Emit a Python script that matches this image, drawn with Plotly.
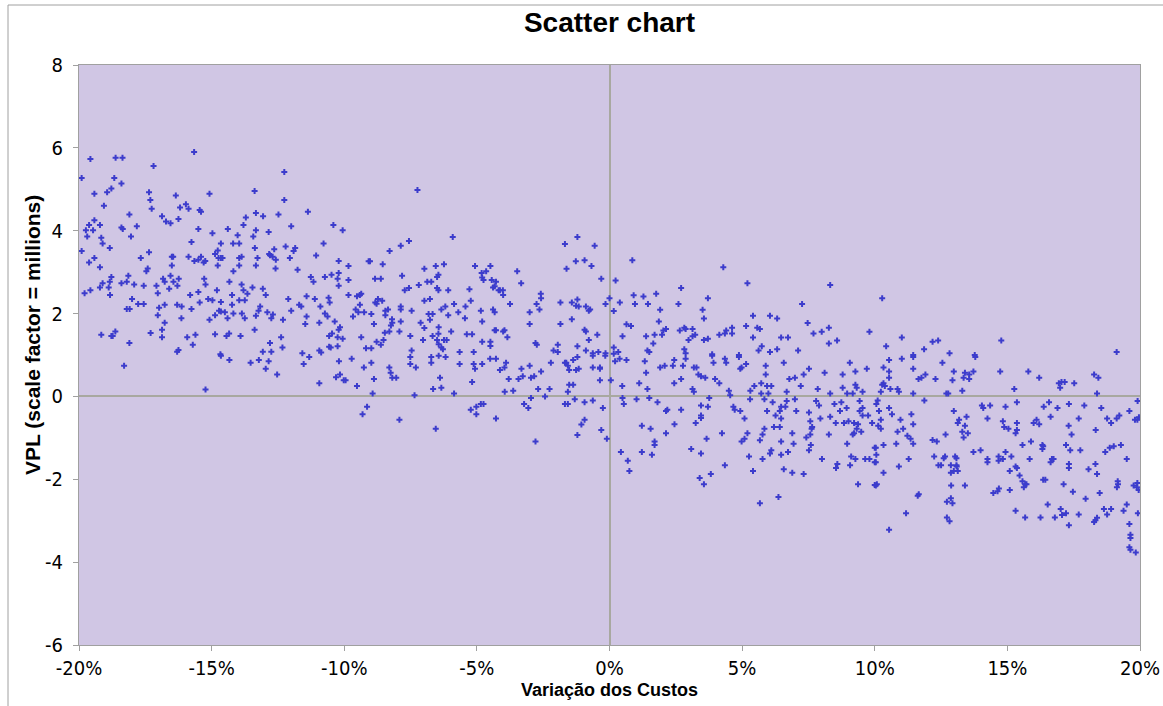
import plotly.graph_objects as go

# Data: (Variação dos Custos in %, VPL in millions)
pts_a = [(-15.66,5.90),(-19.57,5.73),(-18.62,5.76),(-18.36,5.76),(-17.19,5.56),(-12.26,5.42),(-19.90,5.27),(-18.67,5.27),
(-18.78,5.02),(-18.40,5.14),(-19.42,4.89),(-18.94,4.93),(-17.36,4.93),(-16.35,4.85),(-15.08,4.89),(-13.38,4.96),(-17.31,4.74),
(-12.26,4.74),(-19.06,4.60),(-17.26,4.53),(-16.19,4.56),(-15.97,4.64),(-15.87,4.53),(-15.45,4.50),(-15.40,4.46),(-11.37,4.46),
(-18.10,4.39),(-16.87,4.35),(-13.33,4.43),(-13.71,4.32),(-13.06,4.35),(-12.48,4.39),(-16.72,4.22),(-16.55,4.18),(-16.25,4.28),
(-19.42,4.25),(-19.62,4.14),(-19.21,4.14),(-19.74,4.01),(-19.47,4.01),(-18.40,4.08),(-18.35,4.04),(-17.82,4.11),(-13.80,4.14),
(-12.00,4.11),(-10.41,4.14),(-15.50,4.04),(-14.39,4.04),(-13.33,4.01),(-12.85,3.97),(-10.06,4.01),(-19.69,3.86),(-19.16,3.83),
(-18.04,3.86),(-14.97,3.94),(-14.02,3.89),(-13.43,3.86),(-19.11,3.69),(-18.84,3.58),(-15.76,3.73),(-14.65,3.69),(-14.19,3.69),
(-13.96,3.69),(-13.37,3.58),(-12.21,3.62),(-11.85,3.58),(-11.91,3.51),(-10.78,3.69),(-19.90,3.51),(-12.64,3.55),(-12.83,3.44),
(-12.80,3.41),(-17.67,3.34),(-17.36,3.48),(-16.50,3.37),(-16.45,3.37),(-15.87,3.37),(-15.65,3.27),(-15.50,3.30),(-15.40,3.37),
(-15.30,3.23),(-15.24,3.27),(-14.87,3.44),(-14.77,3.52),(-14.74,3.34),(-14.65,3.34),(-14.59,3.34),(-13.96,3.34),(-13.87,3.37),
(-13.27,3.34),(-12.70,3.37),(-12.58,3.30),(-12.05,3.34),(-11.06,3.40),(-10.21,3.27),(-19.42,3.34),(-19.62,3.23),(-19.21,3.12),
(-16.50,3.16),(-14.77,3.16),(-13.96,3.16),(-13.33,3.16),(-12.59,3.09),(-17.41,3.09),(-17.46,3.02),(-14.18,3.02),(-11.76,3.06),
(-18.78,2.88),(-18.14,2.91),(-19.11,2.73),(-18.84,2.77),(-18.40,2.73),(-18.20,2.77),(-17.92,2.70),(-17.56,2.67),(-17.08,2.67),
(-16.83,2.84),(-16.77,2.77),(-16.55,2.91),(-16.44,2.77),(-16.24,2.84),(-16.29,2.67),(-15.28,2.84),(-15.23,2.70),(-14.33,2.77),
(-13.87,2.70),(-13.46,2.63),(-11.26,2.88),(-11.16,2.77),(-10.73,2.88),(-10.48,2.94),(-10.25,2.84),(-10.21,2.98),(-10.21,2.67),
(-19.21,2.63),(-18.88,2.63),(-19.79,2.49),(-19.57,2.56),(-18.83,2.45),(-17.03,2.49),(-16.60,2.60),(-15.81,2.45),(-15.50,2.52),
(-14.80,2.56),(-14.23,2.45),(-13.80,2.56),(-13.65,2.48),(-13.07,2.60),(-12.96,2.45),(-12.11,2.35),(-11.42,2.42),(-18.00,2.35),
(-17.77,2.23),(-17.56,2.23),(-18.20,2.11),(-18.09,2.11),(-16.98,2.14),(-16.77,2.21),(-16.30,2.21),(-16.13,2.17),(-15.76,2.11),
(-15.45,2.27),(-15.13,2.35),(-14.97,2.32),(-14.65,2.28),(-14.23,2.21),(-13.96,2.32),(-13.75,2.32),(-13.17,2.17),(-12.00,2.07),
(-11.70,2.21),(-11.62,2.17),(-11.11,2.35),(-10.90,2.17),(-10.59,2.38),(-10.55,2.27),(-17.03,1.96),(-14.72,2.07),(-14.65,2.05),
(-14.50,2.03),(-14.40,1.89),(-14.87,1.96),(-15.08,1.85),(-14.18,2.00),(-13.86,2.00),(-13.75,1.89),(-13.33,1.95),(-13.23,2.07),
(-12.90,2.03),(-12.75,1.89),(-12.69,1.98),(-12.31,1.85),(-11.42,1.93),(-10.73,2.00),(-10.63,1.93),(-10.36,1.81),(-16.77,1.78),
(-16.14,1.89),(-11.47,1.75),(-10.94,1.78),(-10.21,1.61),(-10.16,1.67),(-19.16,1.49),(-18.78,1.46),(-18.73,1.46),(-18.63,1.57),
(-17.30,1.53),(-16.87,1.61),(-16.87,1.43),(-15.92,1.43),(-15.61,1.49),(-14.87,1.50),(-14.44,1.46),(-14.34,1.52),(-13.91,1.46),
(-13.38,1.61),(-12.38,1.43),(-10.57,1.46),(-10.46,1.52),(-10.25,1.43),(-10.06,1.39),(-18.10,1.29),(-16.30,1.08),(-16.25,1.12),
(-15.71,1.25),(-12.80,1.29),(-12.33,1.18),(-13.07,1.08),(-12.75,1.08),(-11.58,1.04),(-10.94,1.11),(-10.87,1.06),(-10.57,1.20),
(-10.51,1.18),(-10.25,1.21),(-14.67,1.02),
(-18.30,0.74),(-14.65,0.98),(-14.33,0.88),(-13.53,0.81),(-13.22,0.88),(-12.85,0.85),(-12.96,0.67),(-12.53,0.53),(-11.53,0.78),
(-11.32,0.95),(-10.94,0.32),(-10.20,0.85),(-10.31,0.46),(-10.16,0.53),(-10.02,0.39),(-15.23,0.17)]

pts_b = [(-7.24,4.98),(-5.91,3.85),(-7.56,3.75),(-7.87,3.64),(-8.29,3.51),(-9.84,3.15),(-9.08,3.26),(-9.03,3.26),(-8.55,3.19),
(-6.98,3.08),(-6.55,3.15),(-6.24,3.19),(-5.07,3.15),(-4.49,3.15),(-9.84,2.81),(-8.84,2.84),(-8.62,2.84),(-7.82,2.91),(-6.45,2.94),
(-6.50,2.88),(-6.87,2.77),(-6.72,2.77),(-7.19,2.69),(-7.56,2.62),(-7.72,2.56),(-6.50,2.62),(-6.45,2.56),(-6.08,2.56),(-4.82,2.98),
(-4.65,3.02),(-4.80,2.87),(-4.75,2.81),(-4.44,2.81),(-4.28,2.77),(-4.39,2.63),(-4.33,2.66),(-4.18,2.56),(-4.13,2.56),(-4.02,2.56),
(-4.01,2.45),(-3.48,3.02),(-3.33,2.73),(-9.84,2.45),(-9.52,2.42),(-9.41,2.45),(-9.36,2.48),(-9.41,2.21),(-9.57,2.10),(-9.47,2.03),
(-9.67,1.93),(-9.25,2.03),(-8.98,1.99),(-8.83,2.27),(-8.78,2.24),(-8.73,2.35),(-8.57,2.31),(-8.45,2.07),(-8.35,2.10),(-8.45,1.96),
(-8.88,1.75),(-8.20,1.86),(-8.19,1.78),(-8.24,1.71),(-8.30,1.57),(-8.47,1.54),(-7.87,2.17),(-7.87,2.10),(-7.87,1.81),(-7.92,1.57),
(-7.46,2.07),(-6.98,2.31),(-6.77,2.35),(-7.12,1.78),(-6.98,1.65),(-6.82,1.99),(-6.67,1.99),(-6.77,1.85),(-6.34,2.10),(-6.19,2.17),
(-6.08,1.96),(-5.86,2.23),(-5.70,2.03),(-5.43,2.17),(-5.45,1.89),(-5.23,2.31),(-5.28,2.59),(-3.75,2.23),(-4.85,2.07),(-4.80,1.81),
(-4.39,2.10),(-4.33,2.03),(-6.44,1.67),(-5.97,1.57),(-6.45,1.51),(-6.67,1.46),(-6.50,1.36),(-6.24,1.36),(-6.14,1.36),(-7.03,1.36),
(-7.51,1.46),(-5.38,1.50),(-5.18,1.50),(-4.80,1.32),(-4.49,1.32),(-4.49,1.22),(-4.33,1.60),(-4.28,1.60),(-4.01,1.57),(-3.96,1.60),
(-3.85,1.43),(-9.36,1.43),(-8.78,1.32),(-8.62,1.25),(-8.52,1.36),(-9.18,1.16),(-8.98,1.16),(-7.46,1.11),(-6.44,1.26),(-6.34,1.18),
(-6.28,1.14),(-5.65,1.07),(-5.12,1.07),(-3.01,2.03),(-3.01,1.75),(-2.75,2.23),(-2.64,2.10),(-2.59,2.48),(-2.58,2.37),(-1.85,2.27),
(-1.85,1.75),(-1.68,3.68),(-1.62,3.08),(-1.21,3.85),(-1.27,3.26),(-0.94,3.29),(-0.68,3.15),(-0.56,3.64),(-0.31,2.84),(-0.15,2.23),
(0.00,2.37),(-1.42,2.27),(-1.21,2.34),(-1.26,2.19),(-1.16,2.17),(-0.89,2.17),(-0.78,2.07),(-0.73,2.10),(-1.42,1.86),(-0.94,1.61),
(-0.89,1.57),(-0.78,1.36),(-0.46,1.49),(-2.79,1.29),(-2.74,1.25),(-1.95,1.25),(-2.11,1.11),(-1.95,1.07),(-1.21,1.21),(-0.89,1.11),
(-0.63,1.04),(-0.42,1.07),(-0.15,1.04)]

pts_c = [(-9.72,0.91),(-9.26,0.70),(-8.98,0.81),(-9.95,0.39),(-9.52,0.25),(-8.88,0.42),(-8.93,0.07),(-8.30,0.70),(-8.25,0.57),
(-8.19,0.45),(-8.04,0.45),(-7.51,0.95),(-7.51,0.78),(-7.30,0.70),(-6.72,0.95),(-6.72,0.81),(-6.44,0.98),(-6.18,0.95),(-5.65,0.78),
(-5.12,0.78),(-5.07,0.67),(-4.80,0.78),(-4.50,0.91),(-4.28,0.91),(-4.13,0.64),(-3.96,0.70),(-3.90,0.81),(-3.80,0.42),(-6.39,0.45),
(-6.34,0.21),(-6.65,0.18),(-7.35,0.03),(-5.86,0.07),(-5.18,0.35),(-3.95,0.11),(-3.63,0.14),(-3.32,0.67),(-3.27,0.49),(-3.43,0.42),
(-3.01,0.74),(-2.96,0.45),(-2.84,0.49),(-2.58,0.60),(-2.21,0.81),(-1.68,0.81),(-1.57,0.74),(-1.63,0.81),(-1.52,0.64),(-1.37,0.88),
(-1.21,0.95),(-1.26,0.64),(-1.16,0.67),(-0.63,0.98),(-0.63,0.70),(-0.36,0.70),(-0.36,0.67),(-0.36,0.39),(-0.16,0.98),(-1.52,0.28),
(-1.37,0.28),(-1.57,0.11),(-2.69,0.18),(-2.26,0.18),(-2.43,0.00),(-2.96,-0.04),(-3.22,-0.18),(-3.06,-0.28),(-1.68,-0.18),
(-1.57,-0.18),(-1.31,-0.07),(-0.94,-0.14),(-0.63,-0.10),(-0.25,-0.28),(-0.94,-0.56),(-1.06,-0.68),(-1.21,-0.93),(-0.31,-0.81),
(-0.10,-1.02),(-2.79,-1.09),(-4.28,-0.53),(-5.23,-0.32),(-5.02,-0.25),(-4.85,-0.18),(-4.75,-0.18),(-5.02,-0.43),(-6.55,-0.78),
(-7.92,-0.56),(-9.14,-0.25),(-9.31,-0.43)]

pts_d = [(0.86,3.29),(4.29,3.12),(0.23,2.80),(2.70,2.62),(5.20,2.73),(8.32,2.69),(0.91,2.44),(1.28,2.41),(1.76,2.48),(0.39,2.27),
(0.96,2.23),(1.45,2.23),(2.60,2.23),(3.71,2.37),(7.26,2.23),(0.16,2.06),(1.91,2.09),(3.51,2.09),(3.56,1.88),(5.41,1.95),(6.05,1.95),
(6.32,1.88),(1.86,1.81),(0.64,1.74),(0.81,1.70),(1.38,1.45),(1.70,1.49),(1.98,1.49),(2.03,1.59),(2.13,1.63),(2.65,1.59),(2.82,1.66),
(2.87,1.63),(3.13,1.63),(3.13,1.45),(3.23,1.49),(2.98,1.36),(3.56,1.36),(3.71,1.39),(4.14,1.49),(4.35,1.52),(4.40,1.59),(4.62,1.66),
(4.62,1.52),(5.15,1.70),(5.57,1.66),(5.67,1.63),(5.41,1.42),(6.47,1.42),(6.73,1.42),(7.47,1.77),(7.69,1.52),(8.00,1.56),(8.27,1.66),
(8.27,1.28),(8.58,1.35),(9.80,1.56),(0.49,1.45),(1.65,1.28),(0.16,1.18),(0.33,1.07),(0.16,1.03),(1.43,1.11),(1.50,1.07),(2.82,1.14),
(2.87,1.04),(5.74,1.21),(5.62,1.11),(6.05,1.07),(6.32,1.14),(7.11,1.11),(3.87,1.02),(4.88,1.00),
(10.28,2.37),(11.02,1.42),(10.43,1.21),(11.86,1.14),(12.18,1.32),(12.39,1.35),(12.82,1.04),(14.77,1.35),(19.12,1.07),(11.45,1.00),
(13.77,1.00)]

pts_e = [(0.21,0.85),(0.38,0.91),(0.64,0.88),(1.33,0.85),(1.38,0.57),(0.05,0.39),(0.48,0.25),(1.12,0.32),(1.43,0.18),(1.91,0.70),
(2.08,0.74),(2.39,0.74),(2.44,0.88),(2.44,0.32),(2.77,0.74),(2.87,0.91),(2.70,0.42),(3.18,0.70),(3.28,0.70),(3.35,0.53),(3.45,0.49),
(3.61,0.45),(3.13,0.18),(3.18,0.11),(3.87,0.98),(3.92,0.81),(3.98,0.42),(4.14,0.32),(4.35,0.91),(4.40,0.81),(4.88,0.95),(4.93,0.67),
(4.98,0.70),(5.15,0.78),(4.50,0.14),(4.55,0.03),(5.31,0.14),(5.46,0.25),(5.72,0.32),(5.89,0.74),(5.89,0.53),(5.94,0.25),(6.10,0.25),
(5.72,0.07),(5.99,0.07),(6.57,0.81),(6.68,0.11),(6.78,0.42),(6.99,0.45),(7.32,0.53),(7.52,0.67),(7.21,0.25),(7.85,0.18),(8.11,0.57),
(8.32,0.07),(8.79,0.53),(8.79,0.21),(8.96,0.07),(9.06,0.81),(9.27,0.60),(9.27,0.28),(9.32,0.21),(9.17,0.07),(9.54,0.11),(9.70,0.67),
(0.49,-0.04),(0.54,-0.18),(1.02,-0.07),(1.50,-0.04),(1.81,-0.14),(2.13,-0.35),(2.18,-0.32),(2.70,-0.32),(2.45,-0.67),(2.13,-0.89),
(1.70,-1.09),(1.70,-1.17),(1.55,-0.78),(1.22,-0.71),(1.22,-1.34),(1.60,-1.41),(0.43,-1.34),(0.69,-1.55),(0.75,-1.80),(3.45,-0.22),
(3.76,-0.04),(3.71,-0.25),(3.45,-0.46),(3.45,-0.52),(3.25,-0.64),(3.66,-1.02),(3.08,-1.27),(3.45,-1.38),(3.40,-1.97),(3.56,-2.12),
(3.82,-1.87),(4.35,-1.66),(4.24,-0.89),(4.67,-0.25),(4.72,-0.32),(4.93,-0.35),(5.09,-0.53),(5.20,-0.89),(5.09,-1.02),(4.98,-1.09),
(5.26,-1.45),(5.41,-1.80),(5.30,-0.07),(5.84,-0.07),(6.15,-0.14),(5.94,-0.35),(6.26,-0.46),(6.42,-0.35),(6.47,-0.25),(6.63,-0.25),
(6.47,-0.53),(6.68,-0.11),(6.99,-0.07),(7.04,-0.35),(6.20,-0.74),(6.42,-0.74),(5.84,-0.78),(5.77,-0.92),(5.67,-1.06),(6.89,-0.89),
(6.94,-1.14),(6.47,-1.09),(6.10,-1.30),(6.05,-1.38),(6.47,-1.41),(6.73,-1.34),(5.77,-1.51),(6.57,-1.76),(6.89,-1.84),(7.32,-1.87),
(6.37,-2.43),(5.67,-2.58),(7.52,-0.39),(7.57,-0.60),(7.64,-0.74),(7.62,-0.78),(7.57,-0.92),(7.42,-0.99),(7.59,-1.17),(7.52,-1.30),
(7.79,-0.11),(7.90,-0.22),(7.95,-0.53),(8.27,-0.92),(8.32,-0.49),(8.48,-0.18),(8.53,-0.64),(8.69,-0.35),(8.74,-0.14),(8.94,-0.28),
(9.01,-0.60),(8.84,-0.64),(9.22,-0.64),(9.37,-0.67),(9.43,-0.11),(9.43,-0.35),(9.54,-0.28),(9.54,-0.46),(9.75,-0.46),(9.90,-0.64),
(9.32,-0.78),(9.22,-0.89),(9.17,-0.92),(9.49,-0.85),(8.96,-1.14),(8.01,-1.51),(8.59,-1.63),(8.54,-1.73),(9.11,-1.45),(9.27,-1.51),
(9.64,-1.51),(9.80,-1.51),(9.07,-1.66),(9.37,-2.12),(10.00,-1.24),(10.00,-1.59),(10.00,-2.14)]

pts_f = [(10.54,0.88),(11.02,0.91),(11.45,0.95),(10.33,0.70),(10.54,0.60),(10.54,0.45),(11.45,0.67),(10.28,0.28),(10.33,0.32),
(10.38,0.25),(10.59,0.18),(10.86,0.18),(10.91,0.11),(10.23,0.11),(11.45,0.07),(11.65,0.42),(11.76,0.45),(11.91,0.53),(12.29,0.42),
(12.55,0.81),(12.98,0.60),(12.93,0.39),(13.35,0.45),(13.40,0.57),(13.56,0.53),(13.56,0.42),(13.72,0.60),(13.79,0.95),(12.70,0.07),
(12.77,0.07),(13.30,0.14),(14.73,0.60),(15.26,0.18),(15.79,0.60),(16.20,0.45),(16.94,0.32),(16.99,0.21),(17.04,0.35),(17.16,0.35),
(17.52,0.32),(18.27,0.53),(18.43,0.45),(18.38,0.07),
(10.11,-0.10),(10.06,-0.18),(10.16,-0.35),(10.54,-0.28),(10.65,-0.43),(11.87,-0.10),(10.23,-0.56),(10.13,-0.71),(10.23,-0.78),
(10.97,-0.56),(11.07,-0.78),(10.86,-0.85),(11.38,-0.43),(11.45,-0.67),(11.23,-0.95),(11.35,-1.02),(11.45,-1.14),(10.81,-1.14),
(10.33,-1.17),(10.04,-1.24),(10.06,-1.41),(10.04,-1.59),(10.91,-1.69),(11.28,-1.51),(10.33,-1.84),(10.08,-2.12),(10.04,-2.15),
(11.18,-2.82),(10.54,-3.22),(11.62,-2.40),(11.66,-2.36),(12.18,-1.05),(12.34,-1.09),(12.24,-1.45),(12.40,-1.66),(12.50,-1.66),
(12.60,-1.49),(12.65,-1.45),(12.67,-0.92),(12.98,-0.35),(13.13,-0.64),(13.18,-0.56),(13.46,-0.49),(13.40,-0.71),(13.30,-0.85),
(13.51,-0.89),(13.35,-0.99),(12.87,-1.66),(13.03,-1.45),(13.08,-1.49),(13.08,-1.66),(13.09,-1.69),(12.98,-1.80),(13.13,-1.80),
(12.87,-1.84),(12.88,-2.15),(13.40,-2.15),(12.87,-2.46),(12.72,-2.54),(12.93,-2.58),(12.72,-2.92),(12.82,-3.01),(13.72,-1.34),
(13.99,-1.30),(14.04,-0.22),(14.09,-0.28),(14.35,-0.22),(14.93,-0.25),(14.25,-0.53),(14.25,-1.51),(14.25,-1.59),(14.67,-1.45),
(14.67,-1.55),(14.83,-1.51),(14.93,-1.34),(15.15,-1.45),(14.83,-0.60),(14.88,-0.74),(15.04,-0.78),(15.36,-0.14),(15.36,-0.64),
(15.36,-0.81),(15.31,-0.89),(15.57,-1.17),(15.89,-1.09),(15.84,-1.51),(15.09,-1.80),(15.31,-1.69),(15.36,-1.73),(15.46,-1.91),
(15.57,-2.05),(15.62,-2.19),(15.67,-2.12),(15.72,-2.12),(14.47,-2.33),(14.63,-2.29),(14.68,-2.22),(15.09,-2.26),(15.31,-2.76),
(15.67,-2.92),(16.25,-2.92),(15.99,-0.64),(16.10,-0.56),(16.20,-0.67),(16.37,-0.25),(16.57,-0.14),(16.63,-0.49),(16.89,-0.28),
(17.32,-0.18),(17.90,-0.22),(18.54,-0.28),(17.31,-0.71),(17.42,-0.92),(17.69,-0.53),(18.33,-0.81),(18.76,-0.53),(18.91,-0.64),
(19.12,-0.53),(19.22,-0.46),(19.60,-0.35),(19.81,-0.56),(19.91,-0.11),(19.96,-0.50),(19.90,-0.56),(16.32,-1.27),(16.35,-1.20),
(16.32,-1.17),(17.21,-1.17),(17.37,-1.30),(17.75,-1.30),(16.68,-1.51),(16.74,-1.51),(16.63,-1.59),(17.32,-1.63),(17.32,-1.73),
(18.06,-1.76),(18.32,-1.63),(18.38,-1.87),(18.69,-1.34),(18.86,-1.24),(19.01,-1.20),(19.28,-1.17),(19.50,-1.51),(16.35,-2.01),
(16.43,-2.01),(17.12,-2.12),(17.47,-2.30),(17.95,-2.47),(18.48,-2.33),(19.16,-2.05),(19.17,-2.12),(19.13,-2.19),(19.76,-2.15),
(19.88,-2.19),(19.95,-2.26),(19.90,-2.09),(16.52,-2.61),(17.01,-2.72),(17.06,-2.86),(17.21,-2.82),(17.69,-2.85),(16.79,-2.92),
(17.32,-3.11),(18.64,-2.72),(18.91,-2.72),(18.76,-2.85),(19.38,-2.76),(19.50,-2.61),(18.27,-3.03),(18.32,-2.99),(18.38,-2.93),
(19.60,-3.08),(19.92,-2.82),(19.64,-3.34),(19.64,-3.42),(19.60,-3.64),(19.64,-3.70),(19.84,-3.77)]

x_ticks = [-20, -15, -10, -5, 0, 5, 10, 15, 20]
y_ticks = [-6, -4, -2, 0, 2, 4, 6, 8]
x_tick_labels = ["-20%", "-15%", "-10%", "-5%", "0%", "5%", "10%", "15%", "20%"]
y_tick_labels = ["-6", "-4", "-2", "0", "2", "4", "6", "8"]

all_pts = pts_a + pts_b + pts_c + pts_d + pts_e + pts_f
custos = [p[0] for p in all_pts]
vpl = [p[1] for p in all_pts]

TICK_FONT = dict(family="Liberation Sans Narrow, Arial Narrow, DejaVu Sans Condensed, sans-serif", size=20, color="#000000")
BOLD = "Liberation Sans, Arial, sans-serif"

fig = go.Figure()
fig.add_trace(go.Scatter(
    x=custos, y=vpl, mode="markers",
    marker=dict(symbol="cross", size=5, color="#3C3CCC", line=dict(width=0)),
    hoverinfo="x+y", showlegend=False,
))

W, H = 1163, 706
L, R, T, B = 79, 23, 65, 61
pw, ph = W - L - R, H - T - B

def px(xp):
    return (xp - L) / pw

def py(yp):
    return (H - B - yp) / ph

fig.update_layout(
    width=W, height=H, autosize=False,
    margin=dict(l=L, r=R, t=T, b=B, pad=0, autoexpand=False),
    paper_bgcolor="white",
    plot_bgcolor="#D0C6E4",
    title=dict(text="<b>Scatter chart</b>", x=0.5, xref="paper", y=1 - 22 / H, yref="container",
               xanchor="center", yanchor="middle",
               font=dict(family=BOLD, size=28, color="#000000")),
    xaxis=dict(range=[-20, 20], tickvals=x_ticks, ticktext=x_tick_labels, automargin=False,
               showgrid=False, zeroline=True, zerolinecolor="#A8A8A0", zerolinewidth=2,
               showline=True, linecolor="#A0A0A0", linewidth=1, mirror=True,
               ticks="outside", ticklen=5, tickcolor="#A0A0A0", tickfont=TICK_FONT),
    yaxis=dict(range=[-6, 8], tickvals=y_ticks, ticktext=y_tick_labels, automargin=False,
               showgrid=False, zeroline=True,
               zerolinecolor="#A8A8A0", zerolinewidth=2,
               showline=True, linecolor="#A0A0A0", linewidth=1, mirror=True,
               ticks="outside", ticklen=5, tickcolor="#A0A0A0", tickfont=TICK_FONT,
               ticklabelstandoff=6),
    annotations=[
        dict(text="<b>Variação dos Custos</b>", xref="paper", yref="paper", x=0.5, y=py(690),
             xanchor="center", yanchor="middle", showarrow=False,
             font=dict(family=BOLD, size=18, color="#000000")),
        dict(text="<b>VPL (scale factor = millions)</b>", xref="paper", yref="paper", x=px(32), y=py(335),
             xanchor="center", yanchor="middle", showarrow=False, textangle=-90,
             font=dict(family=BOLD, size=21, color="#000000")),
    ],
    shapes=[
        dict(type="line", xref="paper", yref="paper", x0=px(8), x1=px(1163), y0=py(5), y1=py(5),
             line=dict(color="#A0A0A0", width=1)),
        dict(type="line", xref="paper", yref="paper", x0=px(8), x1=px(8), y0=py(5), y1=py(706),
             line=dict(color="#A0A0A0", width=1)),
    ],
)

fig.write_html("out.html", config={"responsive": False})
